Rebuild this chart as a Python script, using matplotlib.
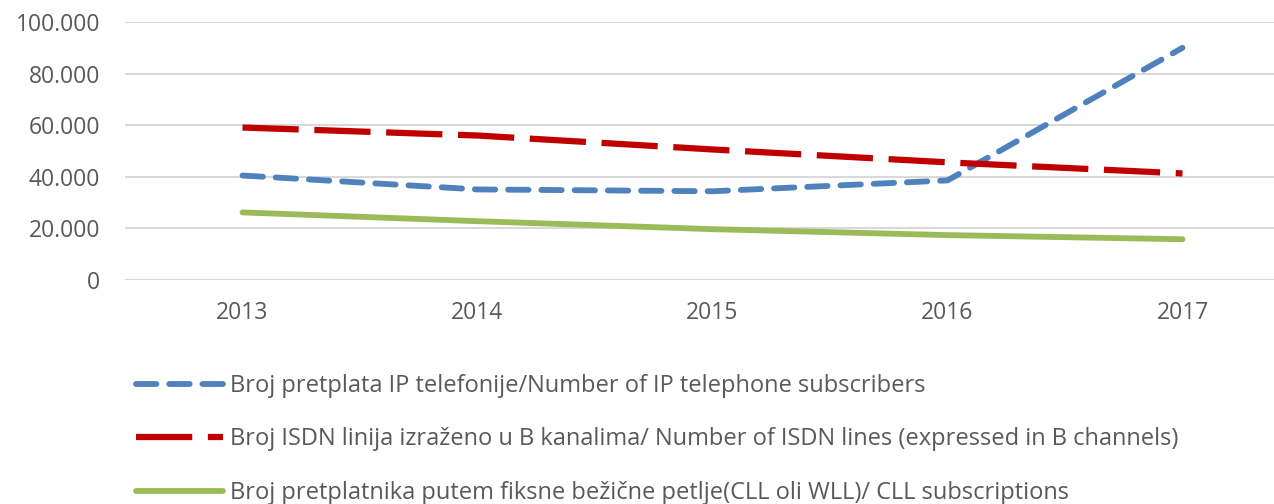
import matplotlib
matplotlib.use('Agg')
import matplotlib.pyplot as plt
from matplotlib.ticker import FuncFormatter

# Podaci
godine = ['2013', '2014', '2015', '2016', '2017']
ip_pretplate = [40500, 35100, 34400, 38600, 90000]
isdn_linije = [59100, 56000, 50600, 45600, 41300]
cll_pretplate = [26200, 22800, 19700, 17400, 15800]

oznake = ['Broj pretplata IP telefonije/Number of IP telephone subscribers',
          'Broj ISDN linija izraženo u B kanalima/ Number of ISDN lines (expressed in B channels)',
          'Broj pretplatnika putem fiksne bežične petlje(CLL oli WLL)/ CLL subscriptions']

plt.rcParams['font.family'] = ['Open Sans', 'DejaVu Sans']

fig = plt.figure(figsize=(12.74, 5.04), dpi=100)
ax = fig.add_axes([125/1274, 1 - 280/504, 1175/1274, 258/504])

x = range(len(godine))
l1, = ax.plot(x, ip_pretplate, color='#4F81BD', lw=4.2, dashes=(3.5, 2.2),
              dash_capstyle='round', solid_capstyle='round')
l2, = ax.plot(x, isdn_linije, color='#C00000', lw=4.5, dashes=(9, 2.5),
              dash_capstyle='butt')
l3, = ax.plot(x, cll_pretplate, color='#9BBB59', lw=4.2, solid_capstyle='round')

ax.set_xlim(-0.5, 4.5)
ax.set_ylim(0, 100000)
ax.set_yticks(range(0, 100001, 20000))
ax.yaxis.set_major_formatter(FuncFormatter(lambda v, p: f'{int(v):,}'.replace(',', '.')))
ax.set_xticks(list(x), godine)

ax.grid(axis='y', color='#D9D9D9', lw=1.5)
ax.set_axisbelow(True)
for s in ax.spines.values():
    s.set_visible(False)
ax.tick_params(length=0, labelsize=16.5, colors='#595959')
ax.tick_params(axis='y', pad=18)
ax.tick_params(axis='x', pad=15)

fig.legend([l1, l2, l3], oznake, loc='upper left', bbox_to_anchor=(124/1274, 1 - 362/504),
           frameon=False, fontsize=17, labelcolor='#595959', handlelength=3.7,
           handletextpad=0.3, labelspacing=1.25, borderpad=0)

plt.savefig('out.png', dpi=100)
